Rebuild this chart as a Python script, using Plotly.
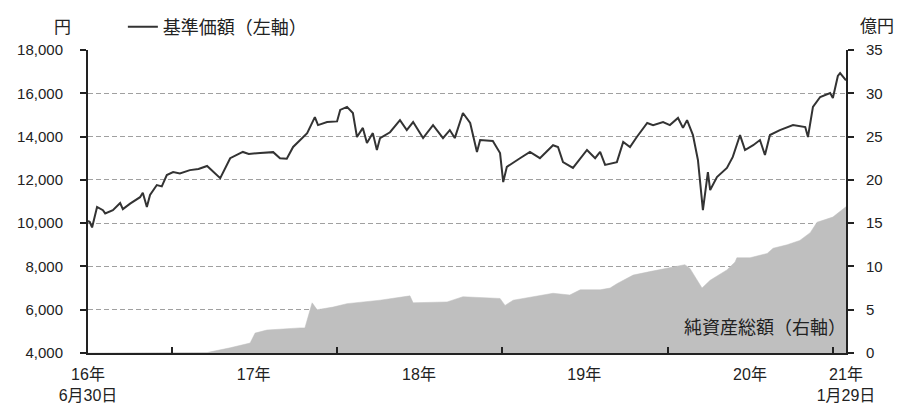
import plotly.graph_objects as go

# 基準価額 (円) - left axis
nav_dates = [
    "2016-06-30", "2016-07-04", "2016-07-09", "2016-07-20", "2016-08-02", "2016-08-07",
    "2016-08-24", "2016-09-09", "2016-09-15", "2016-10-01", "2016-10-23", "2016-10-29",
    "2016-11-07", "2016-11-14", "2016-11-29", "2016-12-10", "2016-12-21", "2017-01-04",
    "2017-01-19", "2017-02-10", "2017-03-01", "2017-03-20", "2017-04-18", "2017-05-10",
    "2017-06-07", "2017-06-20", "2017-07-15", "2017-08-13", "2017-08-28", "2017-09-12",
    "2017-09-26", "2017-10-27", "2017-11-13", "2017-11-20", "2017-12-10", "2018-01-01",
    "2018-01-08", "2018-01-23", "2018-02-05", "2018-02-14", "2018-02-27", "2018-03-08",
    "2018-03-21", "2018-03-30", "2018-04-06", "2018-04-28", "2018-05-20", "2018-06-04",
    "2018-06-18", "2018-07-10", "2018-08-01", "2018-08-23", "2018-09-07", "2018-09-18",
    "2018-10-06", "2018-10-22", "2018-11-06", "2018-11-13", "2018-12-11", "2018-12-27",
    "2019-01-03", "2019-01-11", "2019-02-09", "2019-03-03", "2019-03-25", "2019-04-23",
    "2019-05-04", "2019-05-15", "2019-06-06", "2019-06-22", "2019-07-07", "2019-07-25",
    "2019-08-05", "2019-08-16", "2019-09-11", "2019-09-25", "2019-10-10", "2019-10-25",
    "2019-11-17", "2019-11-30", "2019-12-22", "2020-01-06", "2020-01-24", "2020-02-04",
    "2020-02-13", "2020-02-26", "2020-03-08", "2020-03-19", "2020-03-30", "2020-04-04",
    "2020-04-19", "2020-05-11", "2020-05-24", "2020-06-09", "2020-06-20", "2020-07-08",
    "2020-07-23", "2020-08-03", "2020-08-14", "2020-09-05", "2020-10-04", "2020-10-31",
    "2020-11-06", "2020-11-17", "2020-12-03", "2020-12-25", "2020-12-31", "2021-01-11",
    "2021-01-16", "2021-01-29",
]
nav_values = [
    10100, 10050, 9800, 10750, 10600, 10450,
    10600, 10930, 10650, 10900, 11200, 11400,
    10750, 11300, 11760, 11700, 12220, 12360,
    12300, 12450, 12500, 12640, 12080, 13000,
    13290, 13200, 13240, 13280, 13000, 12980,
    13520, 14160, 14900, 14530, 14670, 14700,
    15230, 15370, 15090, 13980, 14400, 13700,
    14160, 13380, 13930, 14200, 14760, 14300,
    14670, 13930, 14530, 13930, 14300, 13930,
    15090, 14630, 13290, 13840, 13800, 13240,
    11900, 12600, 13000, 13290, 13000, 13600,
    13520, 12820, 12550, 13000, 13380, 13000,
    13290, 12690, 12820, 13750, 13520, 13980,
    14630, 14530, 14670, 14530, 14860, 14400,
    14760, 14070, 12920, 10600, 12360, 11530,
    12130, 12550, 13060, 14070, 13380, 13600,
    13840, 13150, 14070, 14300, 14530, 14440,
    13980, 15370, 15830, 16010, 15780, 16800,
    16930, 16600,
]

# 純資産総額 (億円) - right axis
aum_dates = [
    "2016-06-30", "2017-03-20", "2017-05-10", "2017-06-23", "2017-07-04", "2017-07-30",
    "2017-10-11", "2017-10-22", "2017-10-27", "2017-11-02", "2017-11-07", "2017-11-18",
    "2017-12-23", "2018-01-23", "2018-04-06", "2018-06-11", "2018-06-18", "2018-09-01",
    "2018-10-06", "2018-12-27", "2019-01-07", "2019-01-25", "2019-04-23", "2019-05-30",
    "2019-06-22", "2019-08-05", "2019-08-27", "2019-09-11", "2019-09-25", "2019-10-17",
    "2019-11-23", "2019-12-31", "2020-02-08", "2020-02-19", "2020-03-17", "2020-04-04",
    "2020-05-11", "2020-05-29", "2020-06-02", "2020-07-01", "2020-08-08", "2020-08-21",
    "2020-09-21", "2020-10-19", "2020-11-11", "2020-11-26", "2020-12-31", "2021-01-29",
]
aum_values = [
    0.0, 0.05, 0.6, 1.15, 2.3, 2.65,
    2.9, 2.9, 3.8, 4.8, 5.8, 5.0,
    5.3, 5.7, 6.1, 6.6, 5.8, 5.9,
    6.5, 6.3, 5.5, 6.1, 6.9, 6.7,
    7.3, 7.3, 7.5, 8.0, 8.4, 9.0,
    9.4, 9.8, 10.2, 9.8, 7.5, 8.4,
    9.6, 10.5, 11.0, 11.0, 11.5, 12.1,
    12.5, 13.0, 13.9, 15.1, 15.7, 16.9,
]

x_label_vals = ["2016-06-30", "2017-07-01", "2018-07-01", "2019-07-01", "2020-07-01", "2021-01-29"]
x_label_text = ["16年<br>6月30日", "17年", "18年", "19年", "20年", "21年<br>1月29日"]
year_ticks = ["2017-01-01", "2018-01-01", "2019-01-01", "2020-01-01", "2021-01-01"]

FONT = "Liberation Sans, Arial, Noto Sans CJK JP, sans-serif"
TXT = "#222222"

fig = go.Figure()
fig.add_trace(go.Scatter(
    x=aum_dates, y=aum_values, yaxis="y2", mode="lines",
    line=dict(color="#bfbfbf", width=0.5), fill="tozeroy", fillcolor="#bfbfbf",
    showlegend=False, hoverinfo="skip",
))
fig.add_trace(go.Scatter(
    x=nav_dates, y=nav_values, mode="lines", name="基準価額（左軸）",
    line=dict(color="#333333", width=2),
))

fig.update_layout(
    width=899, height=403,
    margin=dict(l=88, r=53, t=50, b=50, autoexpand=False),
    paper_bgcolor="white", plot_bgcolor="white",
    font=dict(family=FONT, size=16, color=TXT),
    showlegend=True,
    legend=dict(x=0.046, y=1.076, xanchor="left", yanchor="middle",
                orientation="h", font=dict(size=18, color=TXT),
                bgcolor="rgba(0,0,0,0)", borderwidth=0),
    xaxis=dict(
        type="date", range=["2016-06-30", "2021-01-29"],
        showline=True, linecolor="#222222", linewidth=2,
        showgrid=False, zeroline=False,
        tickmode="array", tickvals=x_label_vals, ticktext=x_label_text,
        ticks="", tickfont=dict(size=16, color=TXT), ticklabelstandoff=6,
        minor=dict(tickmode="array", tickvals=year_ticks, ticks="inside",
                   ticklen=6, tickwidth=2, tickcolor="#222222", showgrid=False),
    ),
    yaxis=dict(
        range=[4000, 18000], dtick=2000, tickformat=",",
        showline=True, linecolor="#222222", linewidth=2,
        ticks="outside", ticklen=6, tickwidth=2, tickcolor="#222222",
        showgrid=True, gridcolor="#a0a0a0", griddash="5px,3px", gridwidth=1.4,
        zeroline=False, tickfont=dict(size=15, color=TXT), ticklabelstandoff=14,
    ),
    yaxis2=dict(
        range=[0, 35], dtick=5, overlaying="y", side="right",
        showline=True, linecolor="#222222", linewidth=2,
        ticks="outside", ticklen=6, tickwidth=2, tickcolor="#222222",
        showgrid=False, zeroline=False, tickfont=dict(size=15, color=TXT),
        ticklabelstandoff=9,
    ),
    annotations=[
        dict(text="円", xref="paper", yref="paper", x=-0.033, y=1.074,
             xanchor="center", yanchor="middle", showarrow=False,
             font=dict(size=17, color=TXT)),
        dict(text="億円", xref="paper", yref="paper", x=1.066, y=1.078,
             xanchor="right", yanchor="middle", showarrow=False,
             font=dict(size=17, color=TXT)),
        dict(text="純資産総額（右軸）", xref="paper", yref="paper", x=1.003, y=0.082,
             xanchor="right", yanchor="middle", showarrow=False,
             font=dict(size=18, color=TXT)),
    ],
)

fig.write_html("out.html", config={"displayModeBar": False},
               post_script="document.body.style.margin='0px';")
